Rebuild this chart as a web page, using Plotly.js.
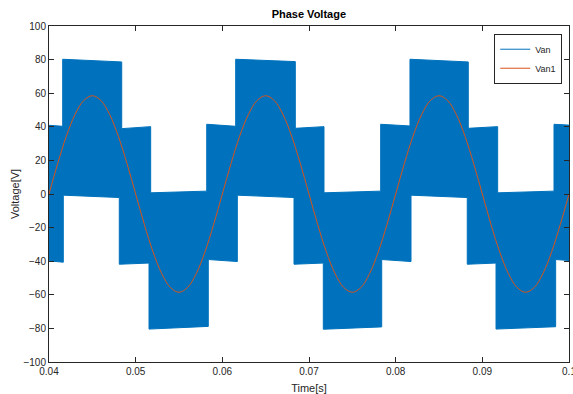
<!DOCTYPE html>
<html>
<head>
<meta charset="utf-8">
<script src="https://cdn.plot.ly/plotly-3.0.1.min.js"></script>
<style>
  html, body { margin: 0; padding: 0; background: #ffffff; }
  #chart { width: 573px; height: 394px; }
</style>
</head>
<body>
<div id="chart"></div>
<script>
// ---- Van (PWM phase voltage) envelope ----
// upper edge of the switching band
const vanUpperT = [0.0400, 0.04158, 0.04158, 0.04839, 0.04839, 0.05173, 0.05173, 0.05820, 0.05820, 0.06154, 0.06154, 0.06842, 0.06842, 0.07173, 0.07173, 0.07827, 0.07827, 0.08165, 0.08165, 0.08838, 0.08838, 0.09177, 0.09177, 0.09827, 0.09827, 0.1000];
const vanUpperV = [40.9, 40.3, 80.2, 78.6, 38.9, 40.1, 0.7, 1.7, 41.5, 40.3, 80.2, 78.8, 39.1, 40.1, 0.7, 1.7, 41.5, 40.5, 80.2, 78.6, 39.1, 40.1, 0.7, 1.7, 41.5, 41.0];
// lower edge of the switching band
const vanLowerT = [0.0400, 0.04165, 0.04165, 0.04811, 0.04811, 0.05154, 0.05154, 0.05838, 0.05838, 0.06173, 0.06173, 0.06827, 0.06827, 0.07165, 0.07165, 0.07839, 0.07839, 0.08177, 0.08177, 0.08826, 0.08826, 0.09158, 0.09158, 0.09846, 0.09846, 0.1000];
const vanLowerV = [-39.8, -40.6, -0.7, -2.1, -41.8, -41.1, -80.4, -78.8, -39.0, -40.2, -0.7, -2.1, -41.8, -41.1, -80.5, -79.1, -39.0, -40.2, -0.7, -2.1, -41.8, -41.1, -80.4, -79.0, -39.0, -39.6];

// ---- Van1 (fundamental) ----
const van1T = [0.040,0.041,0.042,0.043,0.044,0.045,0.046,0.047,0.048,0.049,
               0.050,0.051,0.052,0.053,0.054,0.055,0.056,0.057,0.058,0.059,
               0.060,0.061,0.062,0.063,0.064,0.065,0.066,0.067,0.068,0.069,
               0.070,0.071,0.072,0.073,0.074,0.075,0.076,0.077,0.078,0.079,
               0.080,0.081,0.082,0.083,0.084,0.085,0.086,0.087,0.088,0.089,
               0.090,0.091,0.092,0.093,0.094,0.095,0.096,0.097,0.098,0.099,0.100];
const van1V = [0, 18.1, 34.4, 47.3, 55.6, 58.5, 55.6, 47.3, 34.4, 18.1,
               0, -18.1, -34.4, -47.3, -55.6, -58.5, -55.6, -47.3, -34.4, -18.1,
               0, 18.1, 34.4, 47.3, 55.6, 58.5, 55.6, 47.3, 34.4, 18.1,
               0, -18.1, -34.4, -47.3, -55.6, -58.5, -55.6, -47.3, -34.4, -18.1,
               0, 18.1, 34.4, 47.3, 55.6, 58.5, 55.6, 47.3, 34.4, 18.1,
               0, -18.1, -34.4, -47.3, -55.6, -58.5, -55.6, -47.3, -34.4, -18.1, 0];

const xTicks = [0.04, 0.05, 0.06, 0.07, 0.08, 0.09, 0.1];
const xTickText = ['0.04', '0.05', '0.06', '0.07', '0.08', '0.09', '0.1'];
const yTicks = [-100, -80, -60, -40, -20, 0, 20, 40, 60, 80, 100];

const blue = '#0072BD';
const orange = '#D95319';
const axisColor = '#262626';
const fontFamily = '"Liberation Sans", Arial, Helvetica, sans-serif';

const traces = [
  { x: vanLowerT, y: vanLowerV, type: 'scatter', mode: 'lines', name: 'Van',
    line: { color: blue, width: 1 }, hoverinfo: 'skip' },
  { x: vanUpperT, y: vanUpperV, type: 'scatter', mode: 'lines', name: 'Van',
    line: { color: blue, width: 1 }, fill: 'tonexty', fillcolor: blue,
    showlegend: false, hoverinfo: 'skip' },
  { x: van1T, y: van1V, type: 'scatter', mode: 'lines', name: 'Van1',
    line: { color: orange, width: 1, shape: 'spline' } }
];

const axisCommon = {
  showline: true, linecolor: axisColor, linewidth: 1, mirror: 'ticks',
  ticks: 'inside', ticklen: 5, tickwidth: 1, tickcolor: axisColor,
  showgrid: false, zeroline: false, ticklabeloverflow: 'allow',
  tickfont: { family: fontFamily, size: 10, color: axisColor }
};

const layout = {
  width: 573, height: 394,
  margin: { l: 49, r: 4, t: 26, b: 32, pad: 0 },
  paper_bgcolor: '#ffffff', plot_bgcolor: '#ffffff',
  font: { family: fontFamily, color: axisColor },
  title: { text: '<b>Phase Voltage</b>', font: { family: fontFamily, size: 11, color: '#000000' },
           x: 0.539, xanchor: 'center', y: 0.965, yanchor: 'middle' },
  xaxis: Object.assign({}, axisCommon, {
    range: [0.04, 0.1], tickvals: xTicks, ticktext: xTickText,
    title: { text: 'Time[s]', font: { family: fontFamily, size: 11, color: axisColor }, standoff: 11 }
  }),
  yaxis: Object.assign({}, axisCommon, {
    range: [-100, 100], tickvals: yTicks
  }),
  annotations: [{
    text: 'Voltage[V]', xref: 'paper', yref: 'paper', x: -0.0654, y: 0.5,
    xanchor: 'center', yanchor: 'middle', textangle: -90, showarrow: false,
    font: { family: fontFamily, size: 11, color: axisColor }
  }],
  showlegend: true,
  legend: {
    x: 0.987, xanchor: 'right', y: 0.977, yanchor: 'top',
    traceorder: 'normal',
    bgcolor: '#ffffff', bordercolor: axisColor, borderwidth: 1,
    font: { family: fontFamily, size: 9, color: axisColor },
    itemwidth: 30, tracegroupgap: 0
  }
};

Plotly.newPlot('chart', traces, layout, { staticPlot: true, displayModeBar: false });
</script>
</body>
</html>
